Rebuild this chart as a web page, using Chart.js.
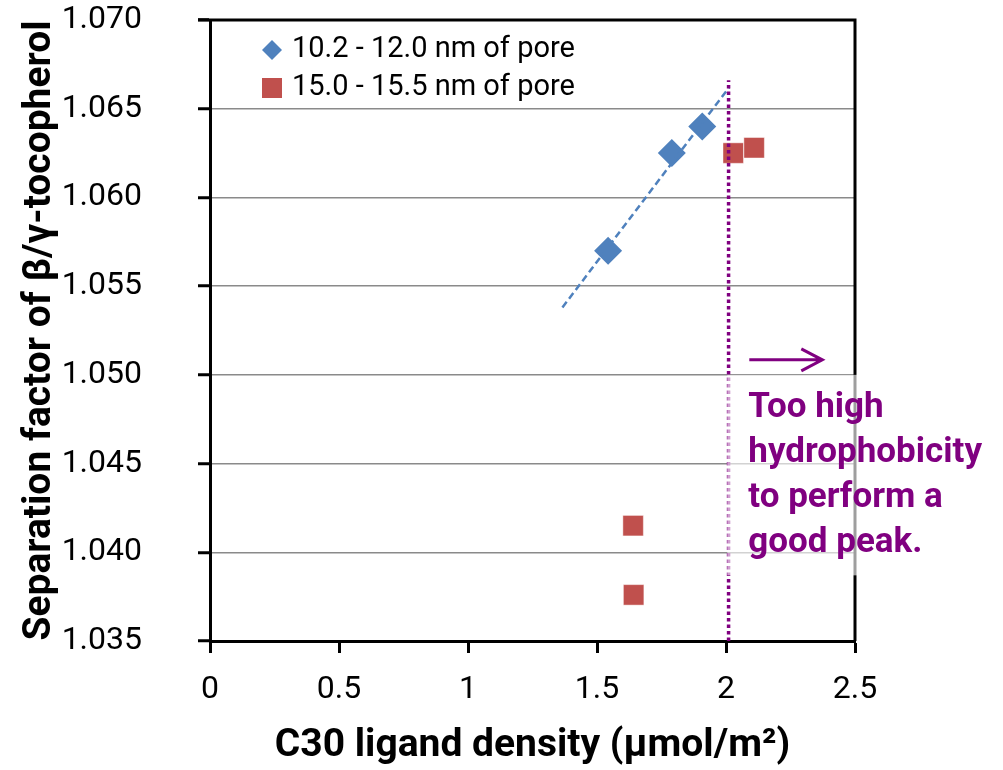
<!DOCTYPE html>
<html>
<head>
<meta charset="utf-8">
<title>Separation factor vs C30 ligand density</title>
<script src="https://cdn.jsdelivr.net/npm/chart.js@4.4.1/dist/chart.umd.min.js"></script>
<style>
  html, body { margin: 0; padding: 0; background: #fff; }
  #wrap { width: 1003px; height: 770px; }
</style>
</head>
<body>
<div id="wrap"><canvas id="chart" width="1003" height="770"></canvas></div>
<script>
// pore size groups
const seriesNames = ["10.2 - 12.0 nm of pore", "15.0 - 15.5 nm of pore"];
const smallPoreX = [1.543, 1.790, 1.908];
const smallPoreY = [1.0570, 1.0625, 1.0640];
const largePoreX = [2.028, 2.109, 1.640, 1.642];
const largePoreY = [1.0625, 1.0628, 1.0415, 1.0376];

// dashed linear trend through the small-pore group
const trendX = [1.366, 2.012];
const trendY = [1.0538, 1.0662];

// dotted limit at 2.01 umol/m2
const limitX = [2.01, 2.01];
const limitY = [1.035, 1.0666];

const xTicks = [0, 0.5, 1, 1.5, 2, 2.5];
const yTicks = [1.035, 1.040, 1.045, 1.050, 1.055, 1.060, 1.065, 1.070];

const noteLines = ["Too high", "hydrophobicity", "to perform a", "good peak."];

const BLUE = "#4F81BD";
const RED = "#C0504D";
const PURPLE = "#800080";

const toPoints = (xs, ys) => xs.map((x, i) => ({ x: x, y: ys[i] }));

// frame, note box and legend drawn on top of the plot
const overlay = {
  id: "overlay",
  afterDraw(chart) {
    const { ctx, chartArea: a, scales } = chart;
    ctx.save();

    // top and right edges of the plot box
    ctx.strokeStyle = "#000";
    ctx.lineWidth = 3;
    ctx.beginPath();
    ctx.moveTo(a.left - 12, a.top);
    ctx.lineTo(a.right, a.top);
    ctx.lineTo(a.right, a.bottom);
    ctx.stroke();

    // translucent note box
    const bx = scales.x.getPixelForValue(2.005);
    const by = scales.y.getPixelForValue(1.050);
    const bb = scales.y.getPixelForValue(1.0387);
    ctx.fillStyle = "rgba(255,255,255,0.62)";
    ctx.fillRect(bx, by, a.right + 3 - bx, bb - by);

    // arrow
    ctx.strokeStyle = PURPLE;
    ctx.lineWidth = 3;
    ctx.beginPath();
    ctx.moveTo(bx + 22, by - 15);
    ctx.lineTo(bx + 95, by - 15);
    ctx.moveTo(bx + 74, by - 26);
    ctx.lineTo(bx + 95, by - 15);
    ctx.lineTo(bx + 74, by - 4);
    ctx.stroke();

    // note text
    ctx.fillStyle = PURPLE;
    ctx.font = "bold 35px Roboto";
    ctx.textAlign = "left";
    ctx.textBaseline = "alphabetic";
    noteLines.forEach((line, i) => {
      ctx.fillText(line, bx + 21, by + 42 + i * 45);
    });

    // legend
    const lx = a.left + 62;
    const ly = [a.top + 30, a.top + 68];
    ctx.fillStyle = BLUE;
    ctx.beginPath();
    ctx.moveTo(lx, ly[0] - 10);
    ctx.lineTo(lx + 10, ly[0]);
    ctx.lineTo(lx, ly[0] + 10);
    ctx.lineTo(lx - 10, ly[0]);
    ctx.closePath();
    ctx.fill();
    ctx.fillStyle = RED;
    ctx.fillRect(lx - 10, ly[1] - 10, 20, 20);

    ctx.fillStyle = "#000";
    ctx.font = "29px Roboto";
    ctx.textBaseline = "middle";
    seriesNames.forEach((name, i) => {
      ctx.fillText(name, lx + 20, ly[i]);
    });
    ctx.restore();
  }
};

new Chart(document.getElementById("chart"), {
  type: "scatter",
  data: {
    datasets: [
      {
        label: "limit",
        data: toPoints(limitX, limitY),
        showLine: true,
        borderColor: PURPLE,
        borderWidth: 3.5,
        borderDash: [3.5, 3],
        pointRadius: 0,
        order: 0
      },
      {
        label: "trend",
        data: toPoints(trendX, trendY),
        showLine: true,
        borderColor: BLUE,
        borderWidth: 2.5,
        borderDash: [7, 4],
        pointRadius: 0,
        order: 1
      },
      {
        label: seriesNames[0],
        data: toPoints(smallPoreX, smallPoreY),
        pointStyle: "rectRot",
        pointRadius: 14,
        backgroundColor: BLUE,
        borderColor: BLUE,
        borderWidth: 0,
        order: 2
      },
      {
        label: seriesNames[1],
        data: toPoints(largePoreX, largePoreY),
        pointStyle: "rect",
        pointRadius: 14.5,
        backgroundColor: RED,
        borderColor: "rgba(255,255,255,0.45)",
        borderWidth: 1,
        order: 3
      }
    ]
  },
  options: {
    responsive: false,
    animation: false,
    events: [],
    layout: { padding: { left: 0, right: 148, top: 20, bottom: 0 } },
    plugins: {
      legend: { display: false },
      tooltip: { enabled: false }
    },
    scales: {
      x: {
        type: "linear",
        min: 0,
        max: 2.5,
        afterFit(scale) {
          scale.height = 129;
          scale.paddingLeft = 0;
          scale.paddingRight = 0;
        },
        afterBuildTicks(scale) { scale.ticks = xTicks.map(v => ({ value: v })); },
        ticks: {
          color: "#000",
          font: { family: "Roboto", size: 32 },
          padding: 18,
          maxRotation: 0,
          callback: v => String(v)
        },
        grid: {
          drawOnChartArea: false,
          drawTicks: true,
          tickLength: 12,
          tickColor: "#000",
          tickWidth: 3
        },
        border: { color: "#000", width: 3 },
        title: {
          display: true,
          text: "C30 ligand density (µmol/m²)",
          color: "#000",
          font: { family: "Roboto", size: 39, weight: "bold" },
          padding: { top: 0, bottom: 0 }
        }
      },
      y: {
        type: "linear",
        min: 1.035,
        max: 1.070,
        afterFit(scale) {
          scale.width = 210;
          scale.paddingTop = 0;
          scale.paddingBottom = 0;
        },
        afterBuildTicks(scale) { scale.ticks = yTicks.map(v => ({ value: v })); },
        ticks: {
          color: "#000",
          font: { family: "Roboto", size: 32 },
          padding: 56,
          callback: v => v.toFixed(3)
        },
        grid: {
          color: "#8a8a8a",
          lineWidth: 1.5,
          drawTicks: true,
          tickLength: 12,
          tickColor: "#000",
          tickWidth: 3
        },
        border: { color: "#000", width: 3 },
        title: {
          display: true,
          text: "Separation factor of β/γ-tocopherol",
          color: "#000",
          font: { family: "Roboto", size: 39, weight: "bold" },
          padding: { top: 17, bottom: 0 }
        }
      }
    }
  },
  plugins: [overlay]
});
</script>
</body>
</html>
